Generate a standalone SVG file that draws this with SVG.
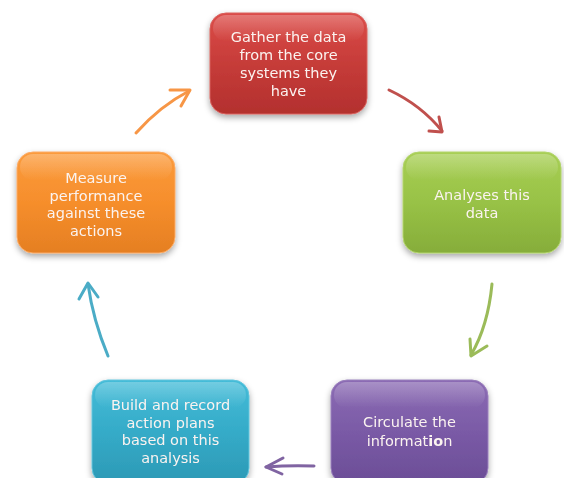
<svg xmlns="http://www.w3.org/2000/svg" width="564" height="478" viewBox="0 0 564 478">
<defs>
<style>
.t{font-family:"DejaVu Sans","Liberation Sans",sans-serif;font-size:14.5px;fill:#fbf3f0;text-anchor:middle}
.c{fill:none;stroke-width:3;stroke-linecap:round;stroke-linejoin:round}
</style>
<filter id="sh" x="-20%" y="-20%" width="140%" height="150%">
<feDropShadow dx="0" dy="3" stdDeviation="3" flood-color="#000" flood-opacity="0.35"/>
</filter>
<linearGradient id="gr" x1="0" y1="0" x2="0" y2="1"><stop offset="0" stop-color="#dc4c48"/><stop offset="0.5" stop-color="#c63c39"/><stop offset="1" stop-color="#b3302e"/></linearGradient>
<linearGradient id="gg" x1="0" y1="0" x2="0" y2="1"><stop offset="0" stop-color="#a8cf55"/><stop offset="0.5" stop-color="#98c246"/><stop offset="1" stop-color="#86ad3a"/></linearGradient>
<linearGradient id="gp" x1="0" y1="0" x2="0" y2="1"><stop offset="0" stop-color="#8c6cb4"/><stop offset="0.5" stop-color="#7a5aa6"/><stop offset="1" stop-color="#6b4d96"/></linearGradient>
<linearGradient id="gc" x1="0" y1="0" x2="0" y2="1"><stop offset="0" stop-color="#44bcd8"/><stop offset="0.5" stop-color="#35abc8"/><stop offset="1" stop-color="#2c99b5"/></linearGradient>
<linearGradient id="go" x1="0" y1="0" x2="0" y2="1"><stop offset="0" stop-color="#fb9b3c"/><stop offset="0.5" stop-color="#f68e2c"/><stop offset="1" stop-color="#e57f22"/></linearGradient>
<linearGradient id="gl" x1="0" y1="0" x2="0" y2="1"><stop offset="0" stop-color="#fff" stop-opacity="0.25"/><stop offset="1" stop-color="#fff" stop-opacity="0"/></linearGradient>
</defs>

<g id="connectors">
<g><path class="c" stroke="#c0504d" d="M389 90 Q421 105 442 131"/><path class="c" stroke="#c0504d" d="M429 131 L442 132 L439 117"/></g>
<g><path class="c" stroke="#9bbb59" d="M492 284 Q488 326 471 355"/><path class="c" stroke="#9bbb59" d="M470 339 L471 356 L487 346"/></g>
<g><path class="c" stroke="#8064a2" d="M314 466 Q290 465 266 467"/><path class="c" stroke="#8064a2" d="M283 458 L266 467 L282 474"/></g>
<g><path class="c" stroke="#4bacc6" d="M108 356 Q93 320 88 284"/><path class="c" stroke="#4bacc6" d="M79 299 L88 283 L98 297"/></g>
<g><path class="c" stroke="#f79646" d="M136 133 Q160 106 189 91"/><path class="c" stroke="#f79646" d="M170 90 L190 90 L181 106"/></g>
</g>

<g id="n1" filter="url(#sh)">
<rect x="210" y="13" width="157" height="101" rx="16" fill="url(#gr)" stroke="#d8625e" stroke-width="1"/>
<rect x="213" y="15" width="151" height="26" rx="13" fill="url(#gl)"/>
<text class="t" x="288.5" y="42">Gather the data</text>
<text class="t" x="288.5" y="60">from the core</text>
<text class="t" x="288.5" y="78">systems they</text>
<text class="t" x="288.5" y="96">have</text>
</g>

<g id="n2" filter="url(#sh)">
<rect x="403" y="152" width="158" height="101" rx="16" fill="url(#gg)" stroke="#b2d46c" stroke-width="1"/>
<rect x="406" y="154" width="152" height="26" rx="13" fill="url(#gl)"/>
<text class="t" x="482" y="200">Analyses this</text>
<text class="t" x="482" y="218">data</text>
</g>

<g id="n3" filter="url(#sh)">
<rect x="331" y="380" width="157" height="104" rx="16" fill="url(#gp)" stroke="#9a80bc" stroke-width="1"/>
<rect x="334" y="382" width="151" height="26" rx="13" fill="url(#gl)"/>
<text class="t" x="409.5" y="427">Circulate the</text>
<text class="t" x="409.5" y="446">informat<tspan font-weight="bold">io</tspan>n</text>
</g>

<g id="n4" filter="url(#sh)">
<rect x="92" y="380" width="157" height="104" rx="16" fill="url(#gc)" stroke="#62c4dc" stroke-width="1"/>
<rect x="95" y="382" width="151" height="26" rx="13" fill="url(#gl)"/>
<text class="t" x="170.5" y="410">Build and record</text>
<text class="t" x="170.5" y="427.5">action plans</text>
<text class="t" x="170.5" y="445">based on this</text>
<text class="t" x="170.5" y="462.5">analysis</text>
</g>

<g id="n5" filter="url(#sh)">
<rect x="17" y="152" width="158" height="101" rx="16" fill="url(#go)" stroke="#fbab66" stroke-width="1"/>
<rect x="20" y="154" width="152" height="26" rx="13" fill="url(#gl)"/>
<text class="t" x="96" y="183">Measure</text>
<text class="t" x="96" y="200.5">performance</text>
<text class="t" x="96" y="218">against these</text>
<text class="t" x="96" y="235.5">actions</text>
</g>
</svg>
